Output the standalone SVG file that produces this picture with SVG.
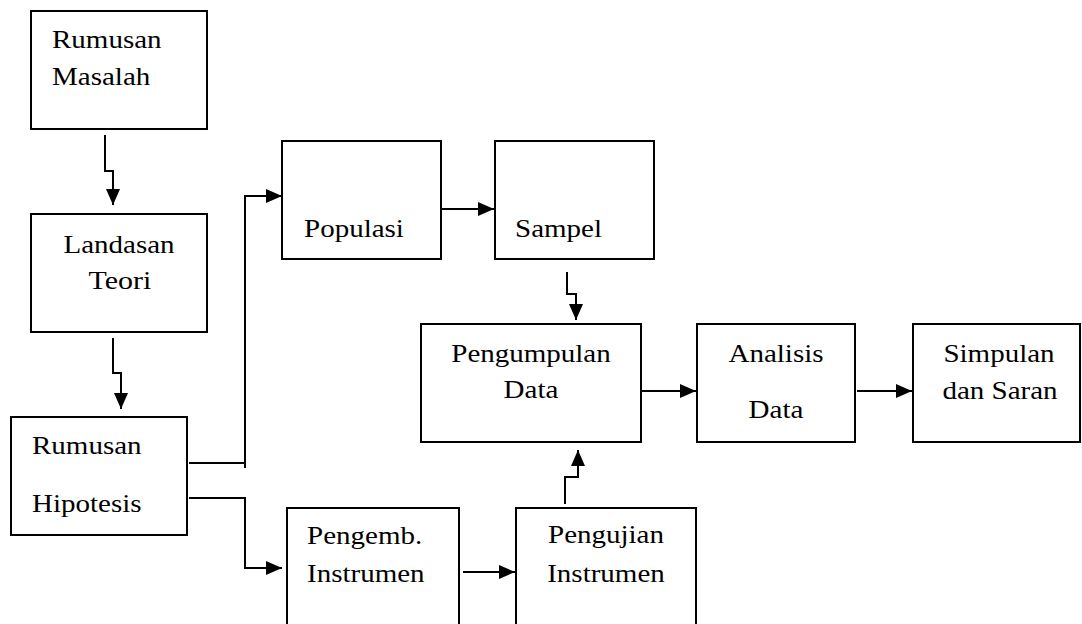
<svg xmlns="http://www.w3.org/2000/svg" width="1082" height="624" viewBox="0 0 1082 624">
<defs>
<style>
.box{fill:#fff;stroke:#000;stroke-width:2}
.t{font-size:25px;fill:#000}
.m{text-anchor:middle}
.c{fill:none;stroke:#000;stroke-width:2}
</style>
<marker id="ah" markerUnits="userSpaceOnUse" markerWidth="17" markerHeight="15" refX="16" refY="7" orient="auto">
<path d="M0,0 L16,7 L0,14 z" fill="#000"/>
</marker>
</defs>
<rect width="1082" height="624" fill="#fff"/>
<g id="connectors">
<path class="c" d="M105,135 V171 H113 V205" marker-end="url(#ah)"/>
<path class="c" d="M113,338 V373 H121 V409" marker-end="url(#ah)"/>
<path class="c" d="M189,463 H245"/>
<path class="c" d="M245,468 V196 H282" marker-end="url(#ah)"/>
<path class="c" d="M189,498 H245 V568 H282" marker-end="url(#ah)"/>
<path class="c" d="M441,209 H494" marker-end="url(#ah)"/>
<path class="c" d="M567,272 V294 H576 V320" marker-end="url(#ah)"/>
<path class="c" d="M463,572 H515" marker-end="url(#ah)"/>
<path class="c" d="M565,504 V477 H578 V450" marker-end="url(#ah)"/>
<path class="c" d="M641,391 H696" marker-end="url(#ah)"/>
<path class="c" d="M857,391 H912" marker-end="url(#ah)"/>
</g>
<g font-family="Liberation Serif, Times New Roman, serif">
<g id="n1">
<rect class="box" x="31" y="11" width="176" height="118"/>
<text class="t" x="52" y="48" textLength="109.6" lengthAdjust="spacingAndGlyphs">Rumusan</text>
<text class="t" x="52" y="85" textLength="98.3" lengthAdjust="spacingAndGlyphs">Masalah</text>
</g>
<g id="n2">
<rect class="box" x="31" y="214" width="176" height="118"/>
<text class="t m" x="119" y="253" textLength="111" lengthAdjust="spacingAndGlyphs">Landasan</text>
<text class="t m" x="120" y="289" textLength="62.8" lengthAdjust="spacingAndGlyphs">Teori</text>
</g>
<g id="n3">
<rect class="box" x="11" y="417" width="176" height="118"/>
<text class="t" x="32" y="454" textLength="109.6" lengthAdjust="spacingAndGlyphs">Rumusan</text>
<text class="t" x="32" y="512" textLength="109.6" lengthAdjust="spacingAndGlyphs">Hipotesis</text>
</g>
<g id="n4">
<rect class="box" x="282" y="141" width="159" height="118"/>
<text class="t" x="304" y="237" textLength="99.9" lengthAdjust="spacingAndGlyphs">Populasi</text>
</g>
<g id="n5">
<rect class="box" x="495" y="141" width="159" height="118"/>
<text class="t" x="515" y="237" textLength="87" lengthAdjust="spacingAndGlyphs">Sampel</text>
</g>
<g id="n6">
<rect class="box" x="421" y="324" width="220" height="118"/>
<text class="t m" x="531" y="362" textLength="159.5" lengthAdjust="spacingAndGlyphs">Pengumpulan</text>
<text class="t m" x="531" y="398" textLength="54.8" lengthAdjust="spacingAndGlyphs">Data</text>
</g>
<g id="n7">
<rect class="box" x="697" y="324" width="158" height="118"/>
<text class="t m" x="776" y="362" textLength="95.1" lengthAdjust="spacingAndGlyphs">Analisis</text>
<text class="t m" x="776" y="418" textLength="54.8" lengthAdjust="spacingAndGlyphs">Data</text>
</g>
<g id="n8">
<rect class="box" x="913" y="324" width="167" height="118"/>
<text class="t m" x="999" y="362" textLength="111.2" lengthAdjust="spacingAndGlyphs">Simpulan</text>
<text class="t m" x="1000" y="399" textLength="115.2" lengthAdjust="spacingAndGlyphs">dan Saran</text>
</g>
<g id="n9">
<rect class="box" x="287" y="508" width="172" height="130"/>
<text class="t" x="307" y="544" textLength="115.2" lengthAdjust="spacingAndGlyphs">Pengemb.</text>
<text class="t" x="307" y="582" textLength="117.6" lengthAdjust="spacingAndGlyphs">Instrumen</text>
</g>
<g id="n10">
<rect class="box" x="516" y="508" width="180" height="130"/>
<text class="t m" x="606" y="543" textLength="116" lengthAdjust="spacingAndGlyphs">Pengujian</text>
<text class="t m" x="606" y="582" textLength="117.6" lengthAdjust="spacingAndGlyphs">Instrumen</text>
</g>
</g>
</svg>
